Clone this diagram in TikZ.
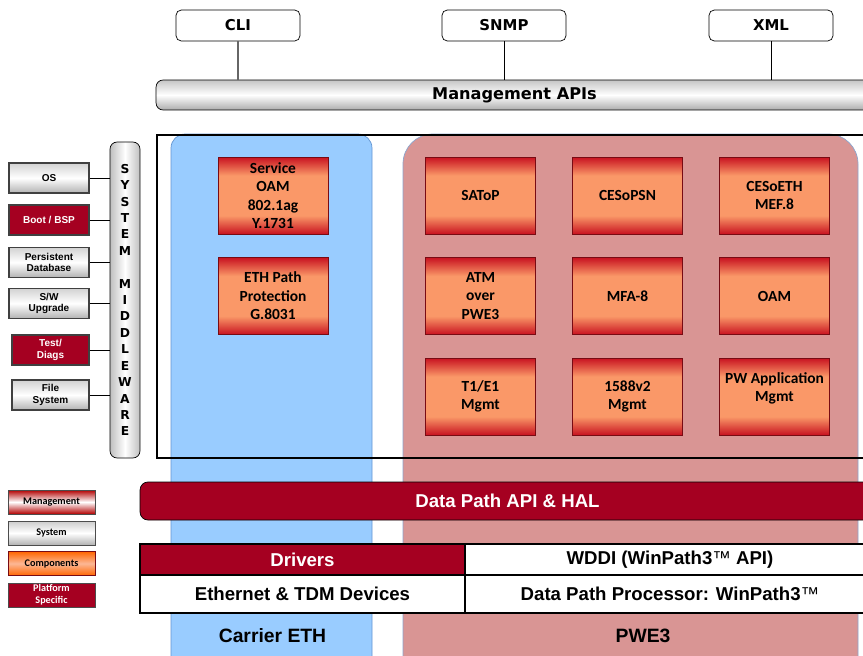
\documentclass[tikz,border=0pt]{standalone}
\usepackage{fontspec}
\setmainfont{Liberation Sans}
\newfontfamily\verd{DejaVu Sans}
\newfontfamily\cali{Carlito}
\definecolor{platred}{RGB}{165,0,33}
\definecolor{compred}{RGB}{200,18,32}
\definecolor{comporange}{RGB}{250,152,104}
\definecolor{ethblue}{RGB}{153,204,255}
\definecolor{ethborder}{RGB}{100,150,210}
\definecolor{pwepink}{RGB}{217,149,148}
\definecolor{pweborder}{RGB}{140,165,205}
\pgfdeclareverticalshading{compshade}{100bp}{color(0bp)=(compred); color(25bp)=(compred);
  color(37bp)=(comporange); color(63bp)=(comporange); color(75bp)=(compred); color(100bp)=(compred)}

\begin{document}
\begin{tikzpicture}[x=0.02cm,y=-0.02cm]
 \tikzset{api/.style = {draw,rounded corners=3pt,fill=white,minimum width=2.48cm,minimum height=0.62cm,font=\verd\bfseries\fontsize{8.5}{10}\selectfont}}
 \tikzset{bar/.style = {draw,rounded corners=4pt,top color=gray!45,bottom color=gray!65,middle color=white}}
 \tikzset{comp/.style = {draw=compred!60!black,shading=compshade,minimum width=2.2cm,minimum height=1.54cm,inner sep=1pt,align=center,font=\cali\bfseries\fontsize{8.8}{10.5}\selectfont}}
 \tikzset{sysbox/.style = {draw=black!75,line width=0.7pt,top color=gray!35,bottom color=gray!60,middle color=white,minimum width=1.6cm,minimum height=0.6cm,inner sep=0pt,align=center,font=\bfseries\fontsize{5.7}{6.6}\selectfont}}
 \tikzset{platbox/.style = {draw=black!75,line width=0.7pt,fill=platred,text=white,minimum width=1.6cm,minimum height=0.6cm,inner sep=0pt,align=center,font=\bfseries\fontsize{5.7}{6.6}\selectfont}}
 \tikzset{legend/.style = {draw=black!70,minimum width=1.74cm,minimum height=0.48cm,inner sep=0pt,align=center,font=\cali\bfseries\fontsize{5.8}{6.8}\selectfont}}
 \tikzset{cell/.style = {draw,line width=0.8pt,fill=white,inner sep=0pt,font=\bfseries\fontsize{10.6}{12}\selectfont}}

 \clip (0,0) rectangle (863,656);
 \fill[white] (0,0) rectangle (863,656);

 % regions
 \draw[ethborder,fill=ethblue,rounded corners=8pt] (171,134) rectangle (372,700);
 \draw[pweborder,fill=pwepink,rounded corners=17pt] (403,134) rectangle (858,700);
 \draw[line width=1.1pt] (157,135) rectangle (900,458);

 % management
 \node[api] (cli) at (238,25.5) {CLI};
 \node[api] (snmp) at (504,25.5) {SNMP};
 \node[api] (xml) at (771,25.5) {XML};
 \node[bar,minimum width=14.34cm,minimum height=0.6cm,font=\verd\bfseries\fontsize{9.2}{11}\selectfont] (mapi) at (514.5,95) {Management APIs};
 \draw[gray!80!black,line width=0.6pt] (cli) -- (cli |- mapi.north);
 \draw (snmp) -- (snmp |- mapi.north);
 \draw (xml) -- (xml |- mapi.north);

 % system middleware
 \node[bar,left color=gray!50,right color=gray!50,middle color=white,minimum width=0.6cm,minimum height=6.32cm,inner sep=0pt,align=center,font=\verd\bfseries\fontsize{7}{9.35}\selectfont] (mw) at (125,300)
  {S\\Y\\S\\T\\E\\M\\~\\M\\I\\D\\D\\L\\E\\W\\A\\R\\E};
 \node[sysbox] (os) at (49,178) {OS};
 \node[platbox] (boot) at (49,220) {Boot / BSP};
 \node[sysbox] (db) at (49,262.5) {Persistent\\Database};
 \node[sysbox] (swup) at (49,303.5) {S/W\\Upgrade};
 \node[platbox,minimum width=1.54cm] (diag) at (50.5,350) {Test/\\Diags};
 \node[sysbox,minimum width=1.54cm] (fs) at (50.5,395) {File\\System};
 \foreach \n in {os,boot,db,swup,diag,fs}
  \draw (\n) -- (\n -| mw.west);

 % carrier eth components
 \node[comp] (soam) at (273,195.5) {Service\\OAM\\802.1ag\\Y.1731};
 \node[comp] (ethpp) at (273,296) {ETH Path\\Protection\\G.8031};

 % pwe3 components
 \foreach \n/\x/\y/\t in {satop/480.5/195.5/SAToP, cesopsn/627.5/195.5/CESoPSN, cesoeth/774.5/195.5/{CESoETH\\MEF.8},
   atm/480.5/296/{ATM\\over\\PWE3}, mfa/627.5/296/MFA-8, oam/774.5/296/OAM,
   tdm/480.5/396.5/{T1/E1\\Mgmt}, ptp/627.5/396.5/{1588v2\\Mgmt}, pwapp/774.5/396.5/{PW Application\\Mgmt\\~}}
  \node[comp] (\n) at (\x,\y) {\t};

 % data path
 \node[draw,fill=platred,text=white,rounded corners=4.5pt,minimum width=14.7cm,minimum height=0.76cm,font=\bfseries\fontsize{10.6}{12}\selectfont] (dpapi) at (507.5,501) {Data Path API \& HAL};
 \node[cell,fill=platred,text=white,minimum width=6.5cm,minimum height=0.62cm] (drv) at (302.5,559.5) {Drivers};
 \node[cell,minimum width=8.2cm,minimum height=0.62cm] (wddi) at (670,559.5) {WDDI (WinPath3{\mdseries ™} API)};
 \node[cell,minimum width=6.5cm,minimum height=0.76cm] (devs) at (302.5,594) {Ethernet \& TDM Devices};
 \node[cell,minimum width=8.2cm,minimum height=0.76cm] (wp3) at (670,594) {Data Path Processor: WinPath3{\mdseries ™}};
 \node[font=\bfseries\fontsize{11}{13}\selectfont] (ceth) at (272.5,636) {Carrier ETH};
 \node[font=\bfseries\fontsize{11}{13}\selectfont] (pwe) at (643,636) {PWE3};

 % legend
 \node[legend,top color=red!70!black,bottom color=red!70!black,middle color=white] (lgmgmt) at (51.5,502) {Management};
 \node[legend,top color=gray!40,bottom color=gray!60,middle color=white] (lgsys) at (51.5,533) {System};
 \node[legend,draw=compred!60!black,top color=orange!80!red,bottom color=orange!80!red,middle color=comporange!70!white] (lgcomp) at (51.5,563.5) {Components};
 \node[legend,fill=platred,text=white] (lgplat) at (51.5,595) {Platform\\Specific};

\end{tikzpicture}
\end{document}
